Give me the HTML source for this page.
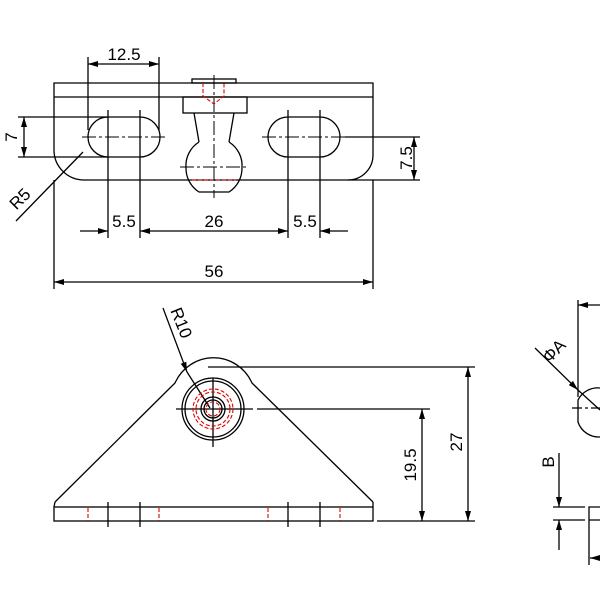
<!DOCTYPE html>
<html><head><meta charset="utf-8"><style>
html,body{margin:0;padding:0;background:#fff;}
svg{display:block;}
text{font-family:"Liberation Sans",sans-serif;font-size:17px;fill:#000;}
</style></head><body>
<svg width="600" height="600" viewBox="0 0 600 600" xmlns="http://www.w3.org/2000/svg">
<defs>
<marker id="a" viewBox="0 0 10 6" refX="10" refY="3" markerWidth="10" markerHeight="6" orient="auto-start-reverse" markerUnits="userSpaceOnUse"><path d="M0,0 L10,3 L0,6 Z" fill="#000"/></marker>
</defs>
<g stroke="#000" stroke-width="1.3" fill="none">
<path d="M54,83 H373 V155 A25,25 0 0 1 348,180 H84 A30,30 0 0 1 54,150 Z"/>
<line x1="54" y1="97" x2="373" y2="97"/>
<path d="M108,117 H140 A20,20 0 0 1 140,157 H108 A20,20 0 0 1 108,117 Z"/>
<path d="M288,117 H320 A20,20 0 0 1 320,157 H288 A20,20 0 0 1 288,117 Z"/>
<rect x="192" y="79" width="44" height="4"/>
<rect x="183" y="97" width="64" height="16"/>
<path d="M194,113 L199,142 M234,113 L229,142"/>
<path d="M199,142 A28,28 0 0 0 186,168 A28,28 0 0 0 199,192 H229 A28,28 0 0 0 242,168 A28,28 0 0 0 229,142"/>
<g stroke-width="1" stroke-dasharray="14,3,3,3">
<line x1="82" y1="137" x2="166" y2="137"/>
<line x1="262" y1="137" x2="346" y2="137"/>
<line x1="214" y1="75" x2="214" y2="198"/>
<line x1="180" y1="167" x2="248" y2="167"/>
</g>
<line x1="88" y1="57" x2="88" y2="130"/>
<line x1="159" y1="57" x2="159" y2="130"/>
<line x1="88" y1="64" x2="159" y2="64" marker-start="url(#a)" marker-end="url(#a)"/>
<line x1="18" y1="117" x2="108" y2="117"/>
<line x1="18" y1="157" x2="108" y2="157"/>
<line x1="24" y1="117" x2="24" y2="157" marker-start="url(#a)" marker-end="url(#a)"/>
<line x1="16" y1="221" x2="83" y2="152"/>
<line x1="345" y1="137" x2="420" y2="137"/>
<line x1="348" y1="180" x2="420" y2="180"/>
<line x1="414" y1="137" x2="414" y2="180" marker-start="url(#a)" marker-end="url(#a)"/>
<line x1="108" y1="110" x2="108" y2="238"/>
<line x1="140" y1="110" x2="140" y2="238"/>
<line x1="288" y1="110" x2="288" y2="238"/>
<line x1="320" y1="110" x2="320" y2="238"/>
<line x1="80" y1="231" x2="108" y2="231" marker-end="url(#a)"/>
<line x1="140" y1="231" x2="288" y2="231" marker-start="url(#a)" marker-end="url(#a)"/>
<line x1="348" y1="231" x2="320" y2="231" marker-end="url(#a)"/>
<line x1="54" y1="180" x2="54" y2="289"/>
<line x1="373" y1="180" x2="373" y2="289"/>
<line x1="54" y1="282" x2="373" y2="282" marker-start="url(#a)" marker-end="url(#a)"/>
<path d="M55,502 L175,383 A42,42 0 0 1 252,383 L373,502"/>
<rect x="54" y="507" width="319" height="14"/>
<path d="M55,502 L54,507 M373,502 V507"/>
<circle cx="213" cy="409" r="31"/>
<circle cx="213" cy="409" r="28"/>
<circle cx="213" cy="409" r="12"/>
<circle cx="213" cy="409" r="9"/>
<line x1="176" y1="409" x2="253" y2="409"/>
<line x1="213" y1="378" x2="213" y2="447"/>
<line x1="257" y1="409" x2="430" y2="409"/>
<line x1="208" y1="367" x2="475" y2="367"/>
<line x1="377" y1="521" x2="475" y2="521"/>
<line x1="422" y1="409" x2="422" y2="521" marker-start="url(#a)" marker-end="url(#a)"/>
<line x1="468" y1="367" x2="468" y2="521" marker-start="url(#a)" marker-end="url(#a)"/>
<line x1="163" y1="308" x2="187" y2="372" marker-end="url(#a)"/>
<line x1="187" y1="372" x2="210" y2="408"/>
<line x1="108" y1="502" x2="108" y2="527"/>
<line x1="140" y1="502" x2="140" y2="527"/>
<line x1="288" y1="502" x2="288" y2="527"/>
<line x1="320" y1="502" x2="320" y2="527"/>
<line x1="578" y1="300" x2="578" y2="397"/>
<line x1="600" y1="305" x2="578" y2="305" marker-end="url(#a)"/>
<line x1="535" y1="348" x2="578" y2="390" marker-end="url(#a)"/>
<line x1="578" y1="390" x2="600" y2="410"/>
<path d="M600,388 A22,22 0 0 0 578,400 V422 A22,22 0 0 0 600,437"/>
<line x1="572" y1="408" x2="600" y2="408" stroke-dasharray="10,3,3,3"/>
<line x1="559" y1="453" x2="559" y2="507" marker-end="url(#a)"/>
<line x1="559" y1="550" x2="559" y2="520" marker-end="url(#a)"/>
<line x1="553" y1="507" x2="585" y2="507"/>
<line x1="553" y1="520" x2="585" y2="520"/>
<path d="M600,507 H589 V565 M589,520 H600"/>
<line x1="600" y1="558" x2="590" y2="558" marker-end="url(#a)"/>
</g>
<g stroke="#e00000" stroke-width="1.1" fill="none" stroke-dasharray="4,2">
<path d="M203,83 V96 L214,104 L224,96 V83"/>
<line x1="192" y1="180" x2="236" y2="180"/>
<circle cx="213" cy="409" r="20"/>
<circle cx="213" cy="409" r="17"/>
<circle cx="213" cy="409" r="7"/>
<line x1="88" y1="508" x2="88" y2="521"/>
<line x1="159" y1="508" x2="159" y2="521"/>
<line x1="268" y1="508" x2="268" y2="521"/>
<line x1="340" y1="508" x2="340" y2="521"/>
</g>
<text x="124" y="60" text-anchor="middle">12.5</text>
<text transform="translate(17,137) rotate(-90)" text-anchor="middle">7</text>
<text transform="translate(24,203) rotate(-45)" text-anchor="middle">R5</text>
<text transform="translate(412,158) rotate(-90)" text-anchor="middle">7.5</text>
<text x="124" y="227" text-anchor="middle">5.5</text>
<text x="214" y="227" text-anchor="middle">26</text>
<text x="305" y="227" text-anchor="middle">5.5</text>
<text x="214" y="277" text-anchor="middle">56</text>
<text transform="translate(176,325) rotate(68)" text-anchor="middle">R10</text>
<text transform="translate(416,465) rotate(-90)" text-anchor="middle">19.5</text>
<text transform="translate(462,442) rotate(-90)" text-anchor="middle">27</text>
<text transform="translate(558,355) rotate(-45)" text-anchor="middle">ΦA</text>
<text transform="translate(554,462) rotate(-90)" text-anchor="middle">B</text>
</svg>
</body></html>
